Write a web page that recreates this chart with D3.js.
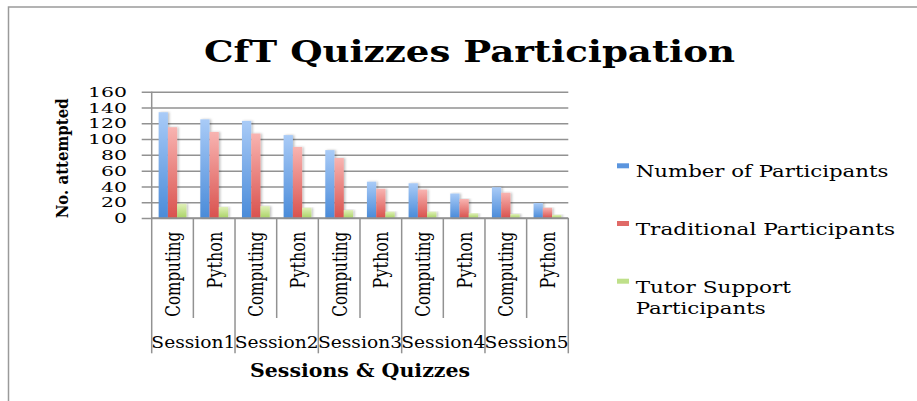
<!DOCTYPE html>
<html>
<head>
<meta charset="utf-8">
<script src="https://cdn.jsdelivr.net/npm/d3@7"></script>
<style>
  body { margin: 0; background: #fff; }
  svg { display: block; }
  text { font-family: "DejaVu Serif", "Liberation Serif", serif; fill: #000; }
</style>
</head>
<body>
<svg class="chart" width="917" height="401"></svg>
<script>
// data
const sessions = ["Session1", "Session2", "Session3", "Session4", "Session5"];
const quizzes = ["Computing", "Python"];
const seriesNames = ["Number of Participants", "Traditional Participants", "Tutor Support Participants"];
const numberOfParticipants = [134, 125, 123, 105, 86, 46, 44, 31, 39, 19];
const traditionalParticipants = [115, 109, 107, 90, 76, 37, 36, 24, 32, 13];
const tutorSupportParticipants = [18, 14, 15, 13, 10, 8, 8, 6, 5, 4];
const yTicks = [0, 20, 40, 60, 80, 100, 120, 140, 160];

const seriesValues = [numberOfParticipants, traditionalParticipants, tutorSupportParticipants];
const colors = [
    {top: "#a9cbf7", bottom: "#4a8bd9", key: "#5b95de"},
    {top: "#f8b4b1", bottom: "#d9524e", key: "#e06a67"},
    {top: "#e0f0b8", bottom: "#aad366", key: "#bfe08a"}
];

// one row per bar group
let categories = [];
sessions.forEach((s, i) => {
    quizzes.forEach((q, j) => {
        categories.push({session: s, quiz: q, idx: i * quizzes.length + j});
    });
});

let svg = d3.select("svg.chart"),
    margin = {top: 91.7, bottom: 218, left: 151.7, right: 568.3};

svg.append("rect").attr("width", 917).attr("height", 401).attr("fill", "#fff");

// chart frame (left + top only visible)
svg.append("path")
    .attr("d", "M8.5,401 L8.5,7 L917,7")
    .attr("fill", "none")
    .attr("stroke", "#9a9a9a")
    .attr("stroke-width", 1.5);

let defs = svg.append("defs");
colors.forEach((c, i) => {
    let g = defs.append("linearGradient")
        .attr("id", "grad" + i)
        .attr("x1", 0).attr("y1", 0).attr("x2", 0).attr("y2", 1);
    g.append("stop").attr("offset", "0%").attr("stop-color", c.top);
    g.append("stop").attr("offset", "100%").attr("stop-color", c.bottom);
});
let shadow = defs.append("filter").attr("id", "shadow")
    .attr("x", "-20%").attr("y", "-5%").attr("width", "160%").attr("height", "110%");
shadow.append("feDropShadow")
    .attr("dx", 1.5).attr("dy", 0).attr("stdDeviation", 1)
    .attr("flood-color", "#000").attr("flood-opacity", 0.25);

let x0 = d3.scaleBand()
    .domain(categories.map(d => d.idx))
    .range([margin.left, margin.right]);

// gap width 150% => 0.75 bar on each side
let x1 = d3.scaleBand()
    .domain(d3.range(seriesValues.length))
    .range([0, x0.bandwidth()])
    .paddingOuter(0.75);

let y = d3.scaleLinear()
    .domain([0, 160])
    .range([margin.bottom, margin.top]);

// gridlines + tick labels
let yAxis = svg.append("g")
    .attr("class", "y-axis")
    .attr("transform", "translate(" + (margin.left - 10) + ",0)")
    .call(d3.axisLeft(y)
        .tickValues(yTicks)
        .tickSizeInner(-(margin.right - margin.left + 10))
        .tickSizeOuter(0)
        .tickPadding(14.7));
yAxis.select(".domain").remove();
yAxis.selectAll(".tick line")
    .attr("stroke", "#929292")
    .attr("stroke-width", 1.5);
yAxis.selectAll(".tick text")
    .style("font-family", "'DejaVu Serif', serif")
    .style("font-size", "12.8px")
    .attr("fill", "#000")
    .attr("dy", "0.36em")
    .attr("textLength", d => String(d).length * 13)
    .attr("lengthAdjust", "spacingAndGlyphs");

// bars
seriesValues.forEach((vals, s) => {
    svg.append("g")
        .selectAll("rect")
        .data(categories)
        .join("rect")
        .attr("x", d => x0(d.idx) + x1(s))
        .attr("y", d => y(vals[d.idx]))
        .attr("width", x1.bandwidth())
        .attr("height", d => y(0) - y(vals[d.idx]))
        .attr("fill", "url(#grad" + s + ")")
        .attr("filter", "url(#shadow)");
});

// axes lines
let axisColor = "#929292";
svg.append("line")
    .attr("x1", margin.left).attr("x2", margin.left)
    .attr("y1", margin.top).attr("y2", margin.bottom)
    .attr("stroke", axisColor).attr("stroke-width", 1.5);
svg.append("line")
    .attr("x1", margin.left).attr("x2", margin.right)
    .attr("y1", y(0)).attr("y2", y(0))
    .attr("stroke", axisColor).attr("stroke-width", 1.5);

// multi level category dividers
let bounds = categories.map(d => x0(d.idx)).concat([margin.right]);
svg.append("g")
    .selectAll("line")
    .data(bounds)
    .join("line")
    .attr("x1", d => d).attr("x2", d => d)
    .attr("y1", y(0))
    .attr("y2", (d, i) => (i % quizzes.length === 0) ? 353.3 : 318)
    .attr("stroke", axisColor)
    .attr("stroke-width", 1.5);

// quiz labels (rotated)
svg.append("g")
    .selectAll("text")
    .data(categories)
    .join("text")
    .attr("transform", d => "translate(" + (x0(d.idx) + x0.bandwidth() / 2 + 7.5) + ",231.7) rotate(-90)")
    .attr("text-anchor", "end")
    .style("font-size", "20px")
    .attr("textLength", d => d.quiz === "Computing" ? 85 : 56.7)
    .attr("lengthAdjust", "spacingAndGlyphs")
    .text(d => d.quiz);

// session labels
svg.append("g")
    .selectAll("text")
    .data(sessions)
    .join("text")
    .attr("x", (d, i) => x0(i * quizzes.length) + x0.bandwidth())
    .attr("y", 348.3)
    .attr("text-anchor", "middle")
    .style("font-size", "17px")
    .attr("textLength", 84)
    .attr("lengthAdjust", "spacingAndGlyphs")
    .text(d => d);

svg.append("text")
    .attr("x", (margin.left + margin.right) / 2)
    .attr("y", 376.7)
    .attr("text-anchor", "middle")
    .style("font-size", "19px")
    .style("font-weight", "bold")
    .attr("textLength", 220)
    .attr("lengthAdjust", "spacingAndGlyphs")
    .text("Sessions & Quizzes");

svg.append("text")      // y axis title
    .attr("transform", "translate(68,158.3) rotate(-90)")
    .attr("text-anchor", "middle")
    .style("font-size", "17.5px")
    .style("font-weight", "bold")
    .attr("textLength", 120)
    .attr("lengthAdjust", "spacingAndGlyphs")
    .text("No. attempted");

// title
svg.append("text")
    .attr("x", 469.5)
    .attr("y", 62)
    .attr("text-anchor", "middle")
    .style("font-size", "30px")
    .style("font-weight", "bold")
    .attr("textLength", 531)
    .attr("lengthAdjust", "spacingAndGlyphs")
    .text("CfT Quizzes Participation");

// legend
let legendLines = [["Number of Participants"], ["Traditional Participants"], ["Tutor Support", "Participants"]];
let legendBase = [177.3, 235, 292.7];
let lineWidths = [[252.7], [259.3], [155.3, 130]];
let legend = svg.append("g").attr("class", "legend");
seriesNames.forEach((name, i) => {
    legend.append("rect")
        .attr("x", 617)
        .attr("y", legendBase[i] - 14)
        .attr("width", 12)
        .attr("height", 5)
        .attr("fill", colors[i].key);
    legendLines[i].forEach((ln, k) => {
        legend.append("text")
            .attr("x", 635.7)
            .attr("y", legendBase[i] + k * 21.6)
            .style("font-size", "17px")
            .attr("textLength", lineWidths[i][k])
            .attr("lengthAdjust", "spacingAndGlyphs")
            .text(ln);
    });
});
</script>
</body>
</html>
